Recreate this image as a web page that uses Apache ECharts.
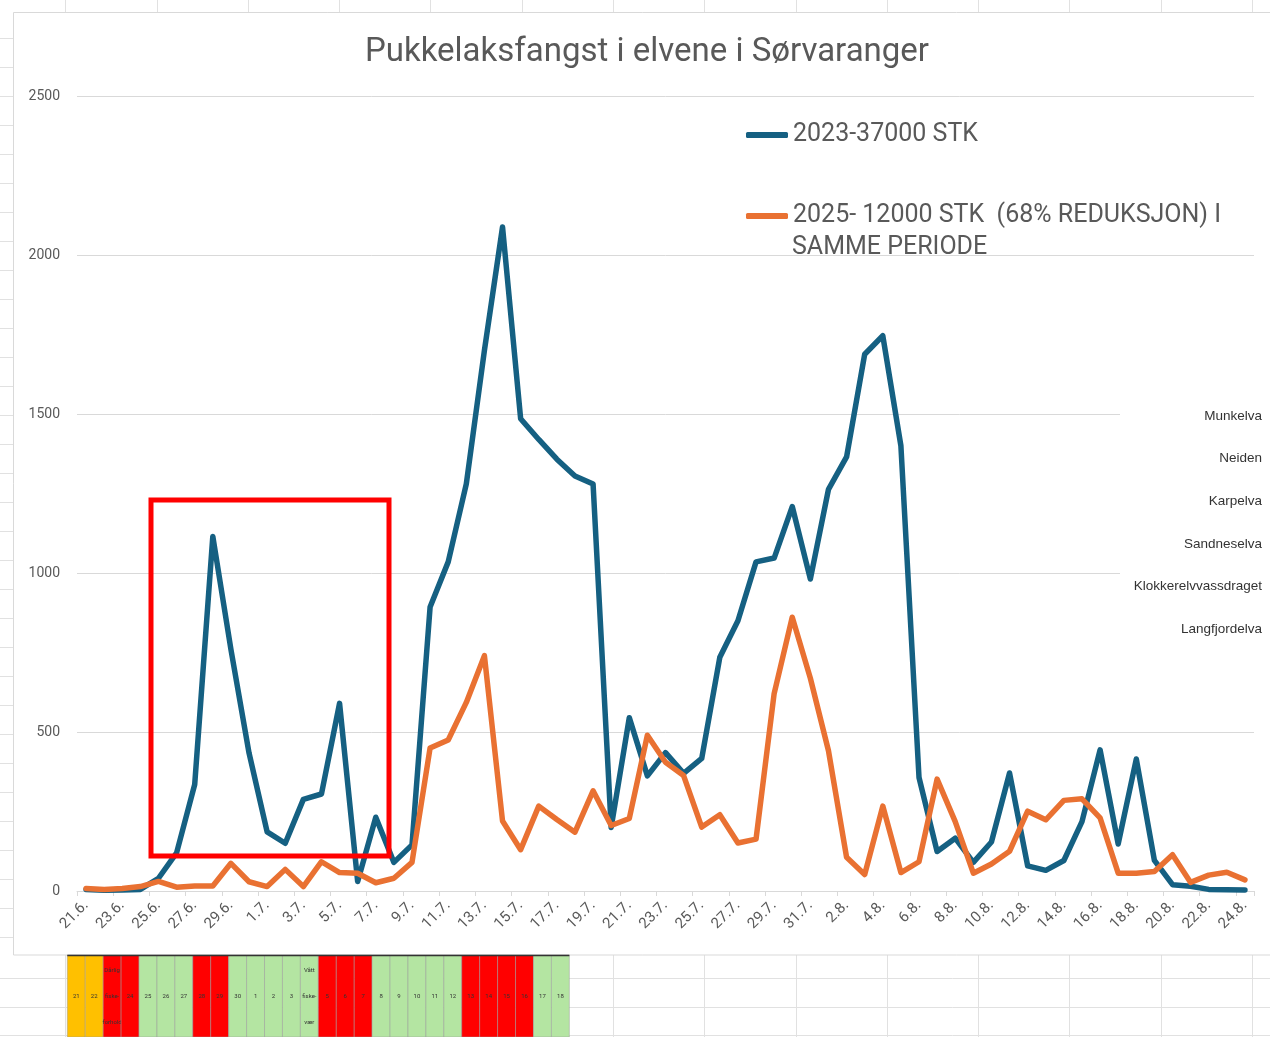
<!DOCTYPE html>
<html>
<head>
<meta charset="utf-8">
<script src="https://cdn.jsdelivr.net/npm/echarts@6/dist/echarts.min.js"></script>
<style>
html,body{margin:0;padding:0;background:#ffffff;}
#c{width:1270px;height:1037px;}
</style>
</head>
<body>
<div id="c"></div>
<script>
// ---------- DATA ----------
const dates = [
  '21.6.','22.6.','23.6.','24.6.','25.6.','26.6.','27.6.','28.6.','29.6.','30.6.',
  '1.7.','2.7.','3.7.','4.7.','5.7.','6.7.','7.7.','8.7.','9.7.','10.7.',
  '11.7.','12.7.','13.7.','14.7.','15.7.','16.7.','17.7.','18.7.','19.7.','20.7.',
  '21.7.','22.7.','23.7.','24.7.','25.7.','26.7.','27.7.','28.7.','29.7.','30.7.',
  '31.7.','1.8.','2.8.','3.8.','4.8.','5.8.','6.8.','7.8.','8.8.','9.8.',
  '10.8.','11.8.','12.8.','13.8.','14.8.','15.8.','16.8.','17.8.','18.8.','19.8.',
  '20.8.','21.8.','22.8.','23.8.','24.8.'
];
const catch2023 = [
  5, 2, 3, 5, 40, 120, 335, 1115, 760, 434,
  186, 150, 288, 305, 590, 30, 232, 90, 145, 893,
  1035, 1280, 1700, 2088, 1485, 1420, 1358, 1305, 1280, 200,
  545, 362, 435, 370, 417, 735, 850, 1035, 1047, 1209,
  981, 1263, 1365, 1688, 1746, 1400, 357, 124, 166, 90,
  154, 371, 79, 65, 96, 218, 444, 148, 415, 96,
  20, 15, 5, 4, 3
];
const catch2025 = [
  8, 5, 8, 14, 30, 12, 16, 16, 87, 29,
  14, 68, 14, 92, 58, 56, 26, 40, 90, 450,
  475, 593, 740, 220, 130, 267, 225, 185, 315, 206,
  228, 490, 405, 363, 201, 240, 151, 163, 621, 861,
  669, 441, 106, 52, 267, 58, 92, 352, 218, 56,
  85, 125, 251, 224, 285, 290, 230, 56, 56, 61,
  114, 27, 50, 59, 35
];
const seriesNames = ['2023-37000 STK', '2025- 12000 STK  (68% REDUKSJON) I\nSAMME PERIODE'];
const chartTitle = 'Pukkelaksfangst i elvene i Sørvaranger';
const yMin = 0, yMax = 2500, yStep = 500;
const rivers = ['Munkelva', 'Neiden', 'Karpelva', 'Sandneselva', 'Klokkerelvvassdraget', 'Langfjordelva'];
const stripStatus = ['o','o','r','r','g','g','g','r','r','g','g','g','g','g','r','r','r','g','g','g','g','g','r','r','r','r','g','g'];
const stripText = ['21','22','Dårlig\nfiske-\nforhold','24','25','26','27','28','29','30','1','2','3','Vått\nfiske-\nvær','5','6','7','8','9','10','11','12','13','14','15','16','17','18'];

// ---------- STYLE ----------
const BLUE = '#156082', ORANGE = '#E97132', GRAY = '#595959', GRID = '#d9d9d9', SHEET = '#e1e1e1';
const FONT = 'Roboto, "Liberation Sans", Arial, sans-serif';
const stripColor = {o:'#FFC000', r:'#FF0000', g:'#B4E5A2'};
const LEG_FS = 25;

const graphics = [];
// spreadsheet grid outside chart
const colXs = [65,157,248,339,430,522,613,704,796,887,978,1069,1161,1252];
colXs.forEach(x => graphics.push({type:'line', silent:true, shape:{x1:x+0.5,y1:0,x2:x+0.5,y2:12}, style:{stroke:SHEET,lineWidth:1}}));
for (let y = 38; y < 950; y += 29) graphics.push({type:'line', silent:true, shape:{x1:0,y1:y+0.5,x2:13,y2:y+0.5}, style:{stroke:SHEET,lineWidth:1}});
[978,1007,1035].forEach(y => graphics.push({type:'line', silent:true, shape:{x1:0,y1:y+0.5,x2:1270,y2:y+0.5}, style:{stroke:SHEET,lineWidth:1}}));
colXs.forEach(x => graphics.push({type:'line', silent:true, shape:{x1:x+0.5,y1:955,x2:x+0.5,y2:1037}, style:{stroke:SHEET,lineWidth:1}}));
// chart border
graphics.push({type:'rect', silent:true, shape:{x:13.5,y:12.5,width:1300,height:942.5}, style:{fill:'none',stroke:GRID,lineWidth:1}});
// bottom coloured strip
const cellW = 17.93, cellX0 = 67.3;
stripStatus.forEach((s, i) => {
  graphics.push({type:'rect', silent:true, shape:{x:cellX0 + i*cellW, y:955, width:cellW, height:82},
    style:{fill:stripColor[s], stroke:'#9a9a9a', lineWidth:0.5}});
  graphics.push({type:'text', silent:true, x:cellX0 + i*cellW + cellW/2, y:996,
    style:{text:stripText[i], fontSize:6, lineHeight:26, fill:'#333', align:'center', verticalAlign:'middle', fontFamily:FONT}});
});
graphics.push({type:'line', silent:true, shape:{x1:cellX0,y1:955.5,x2:cellX0+stripStatus.length*cellW,y2:955.5}, style:{stroke:'#333',lineWidth:1.5}});
// red highlight box
graphics.push({type:'rect', silent:true, z:100, shape:{x:151,y:500,width:238,height:356}, style:{fill:'none',stroke:'#FF0000',lineWidth:5}});
// river names box
graphics.push({type:'rect', silent:true, z:90, shape:{x:1120,y:398,width:150,height:245}, style:{fill:'#ffffff'}});
rivers.forEach((r, i) => graphics.push({type:'text', silent:true, z:91, x:1262, y:416 + i*42.6,
  style:{text:r, fontSize:13.5, fill:'#333333', align:'right', verticalAlign:'middle', fontFamily:'"Liberation Sans", Arial, sans-serif'}}));
// second line of the wrapped legend entry
graphics.push({type:'text', silent:true, z:50, x:792, y:248,
  style:{text:seriesNames[1].split('\n')[1], fontSize:LEG_FS, fill:GRAY, verticalAlign:'middle', fontFamily:FONT}});

const chart = echarts.init(document.getElementById('c'), null, {renderer:'canvas'});
chart.setOption({
  animation:false,
  backgroundColor:'#ffffff',
  title:{text:chartTitle, left:642, top:31, textAlign:'center',
    textStyle:{fontSize:33, fontWeight:'normal', color:GRAY, fontFamily:FONT}},
  legend:[
    {data:[seriesNames[0]], left:741, top:116, icon:'roundRect', itemWidth:42, itemHeight:6, selectedMode:false,
     textStyle:{fontSize:LEG_FS, lineHeight:28, color:GRAY, fontFamily:FONT}},
    {data:[seriesNames[1]], left:741, top:197, icon:'roundRect', itemWidth:42, itemHeight:6, selectedMode:false,
     formatter: n => n.split('\n')[0],
     textStyle:{fontSize:LEG_FS, lineHeight:28, color:GRAY, fontFamily:FONT}}
  ],
  grid:{left:77, right:16, top:96, bottom:146, containLabel:false},
  xAxis:{type:'category', data:dates, boundaryGap:true,
    axisLine:{lineStyle:{color:GRID,width:1}},
    axisTick:{show:true, interval:1, length:5, lineStyle:{color:GRID}},
    axisLabel:{interval:1, rotate:45, color:GRAY, fontSize:15, margin:12, fontFamily:FONT}},
  yAxis:{type:'value', min:yMin, max:yMax, interval:yStep,
    axisLine:{show:false}, axisTick:{show:false},
    axisLabel:{color:GRAY, fontSize:14, margin:17, fontFamily:FONT, formatter: v => String(v)},
    splitLine:{lineStyle:{color:GRID,width:1}}},
  series:[
    {name:seriesNames[0], type:'line', data:catch2023, symbol:'none', color:BLUE,
     lineStyle:{width:5.5, color:BLUE, cap:'round', join:'round'}},
    {name:seriesNames[1], type:'line', data:catch2025, symbol:'none', color:ORANGE,
     lineStyle:{width:5.5, color:ORANGE, cap:'round', join:'round'}}
  ],
  graphic:graphics
});
</script>
</body>
</html>
